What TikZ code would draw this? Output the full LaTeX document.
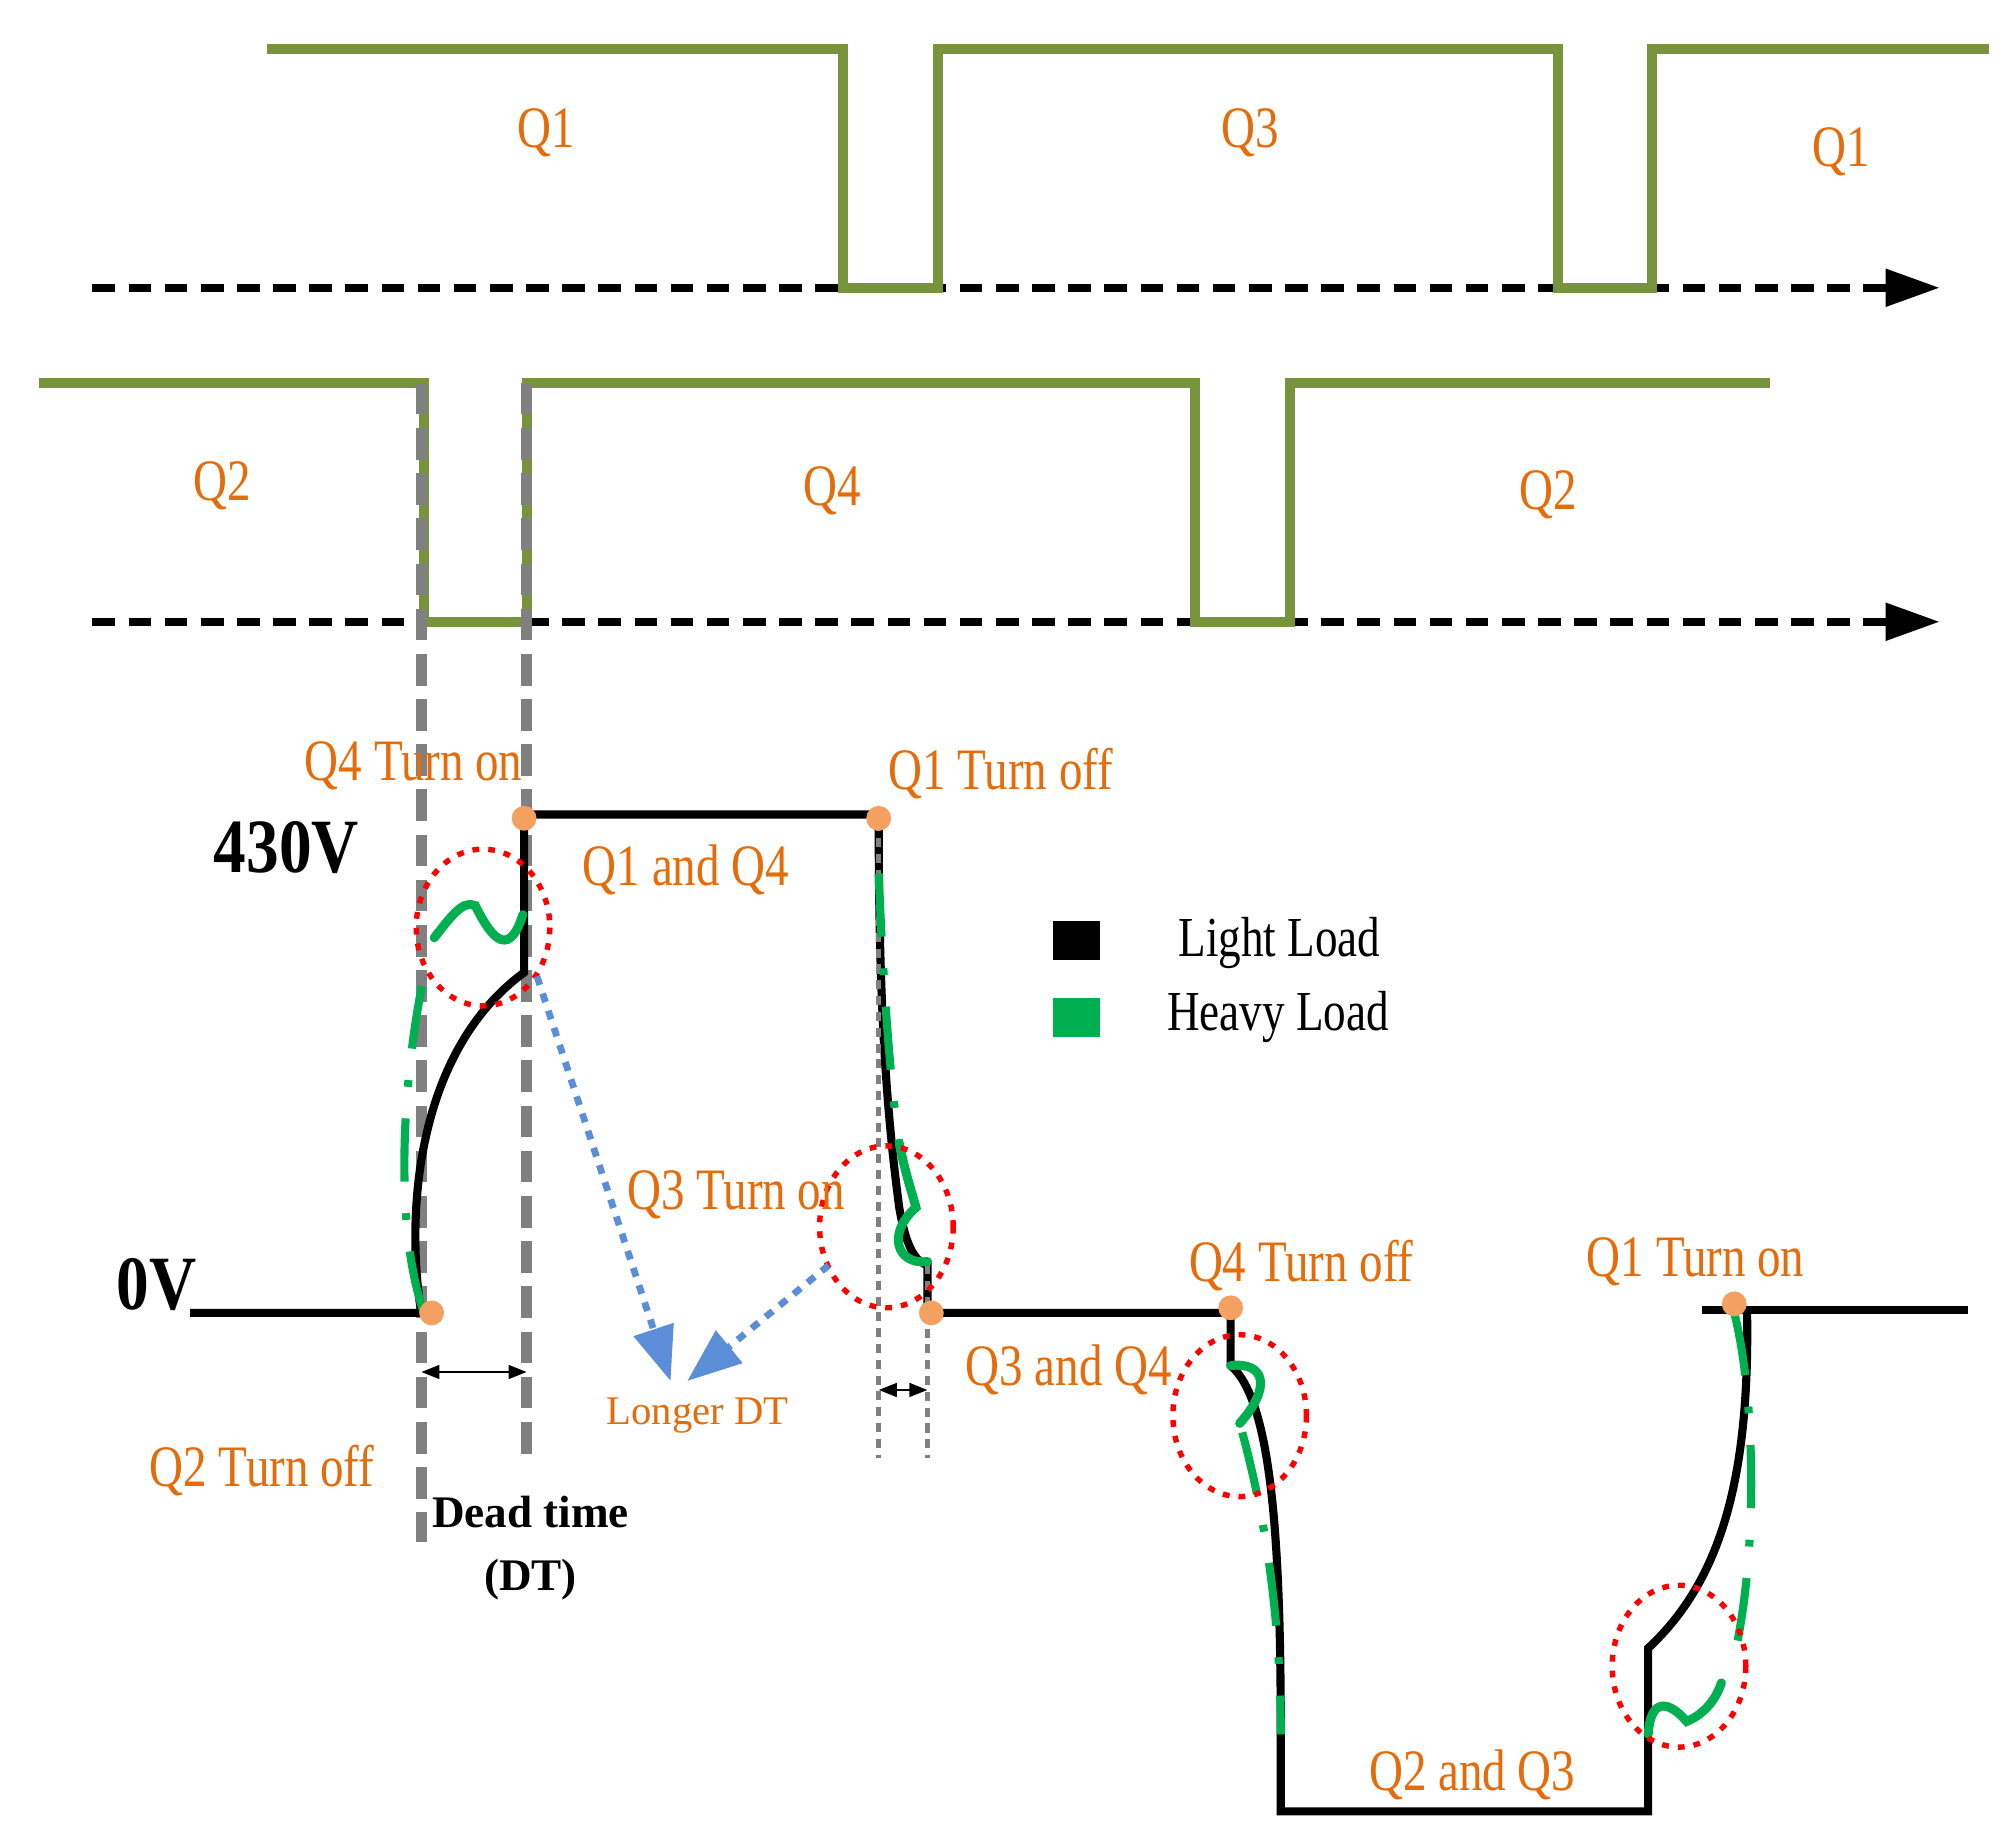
\documentclass[tikz,border=0pt]{standalone}
\usepackage{fontspec}
\setmainfont{Liberation Serif}
\usetikzlibrary{arrows.meta}
\definecolor{olive}{HTML}{77933C}
\definecolor{hgreen}{HTML}{00B050}
\definecolor{otxt}{HTML}{E46C0A}
\definecolor{odot}{HTML}{F4A060}
\definecolor{blu}{HTML}{5B8ED6}
\newcommand{\sq}[1]{\scalebox{0.8}[1]{#1}}
\begin{document}
\begin{tikzpicture}[x=0.01cm,y=-0.01cm,
  gate/.style={olive,line width=2.2pt},
  axis/.style={black,line width=1.8pt,dash pattern=on 5pt off 3pt,-{Triangle[length=12pt,width=8pt]}},
  gdash/.style={gray,line width=2.4pt,dash pattern=on 7pt off 3pt},
  gdot/.style={gray,line width=1pt,dash pattern=on 2pt off 1.5pt},
  wave/.style={black,line width=1.8pt},
  heavy/.style={hgreen,line width=1.8pt,dash pattern=on 14pt off 7pt on 1.5pt off 7pt},
  wig/.style={hgreen,line width=2pt,line cap=round},
  ring/.style={red,line width=1.2pt,dash pattern=on 1.5pt off 2pt},
  dot/.style={circle,fill=odot,inner sep=0pt,minimum size=5.5pt},
  lab/.style={text=otxt,font=\fontsize{13}{15}\selectfont,inner sep=0pt},
  volt/.style={font=\fontsize{17}{19}\selectfont\bfseries,inner sep=0pt},
  barrow/.style={blu,line width=1.5pt,dash pattern=on 2pt off 2pt,-{Triangle[length=12pt,width=9pt]}},
  dt/.style={black,line width=0.6pt,{Triangle[length=4pt,width=3pt]}-{Triangle[length=4pt,width=3pt]}}]
\path[use as bounding box] (0,0) rectangle (1560,1426);
% gate signals
\draw[axis] (72,224) -- (1510,224);
\draw[axis] (72,484) -- (1510,484);
\draw[gate] (208,38) -- (656,38) -- (656,224) -- (730,224) -- (730,38) -- (1213,38) -- (1213,224) -- (1286,224) -- (1286,38) -- (1548,38);
\draw[gate] (30,298) -- (330,298) -- (330,484) -- (410,484) -- (410,298) -- (930,298) -- (930,484) -- (1004,484) -- (1004,298) -- (1378,298);
\node[lab] (q1a) at (425,103) {\sq{Q1}};
\node[lab] (q3) at (973,103) {\sq{Q3}};
\node[lab] (q1b) at (1433,118) {\sq{Q1}};
\node[lab] (q2a) at (173,378) {\sq{Q2}};
\node[lab] (q4) at (648,382) {\sq{Q4}};
\node[lab] (q2b) at (1205,385) {\sq{Q2}};
% grey guides
\draw[gdash] (328,298) -- (328,1200);
\draw[gdash] (410,298) -- (410,1140);
% light load waveform
\draw[wave] (148,1022) -- (328,1022) .. controls (316,950) and (322,820) .. (408,757) -- (408,634) -- (684,634)
  .. controls (684,760) and (688,850) .. (700,940) .. controls (706,975) and (714,982) .. (722,985) -- (722,1022) -- (958,1022) -- (958,1063)
  .. controls (990,1090) and (997,1200) .. (997,1350) -- (997,1410) -- (1283,1410) -- (1283,1283)
  .. controls (1340,1230) and (1362,1150) .. (1360,1022);
\draw[wave] (1325,1020) -- (1532,1020);
\draw[gdot] (684,640) -- (684,1135);
\draw[gdot] (722,985) -- (722,1135);
% heavy load
\draw[heavy] (330,1022) .. controls (305,950) and (315,830) .. (330,760);
\draw[wig] (338,730) .. controls (350,715) and (360,700) .. (370,705) .. controls (380,725) and (395,750) .. (407,712);
\draw[heavy] (684,680) .. controls (688,780) and (694,850) .. (700,890);
\draw[wig] (700,890) .. controls (705,915) and (712,935) .. (713,940) .. controls (690,960) and (698,985) .. (722,982);
\draw[wig] (958,1063) .. controls (985,1060) and (990,1080) .. (965,1108);
\draw[heavy] (967,1115) .. controls (990,1200) and (997,1280) .. (997,1350);
\draw[heavy] (1350,1022) .. controls (1365,1080) and (1370,1200) .. (1350,1290);
\draw[wig] (1283,1350) .. controls (1285,1320) and (1300,1325) .. (1313,1340) .. controls (1325,1335) and (1335,1325) .. (1340,1310);
% rings
\draw[ring] (376,722) ellipse [x radius=52,y radius=61];
\draw[ring] (690,955) ellipse [x radius=52,y radius=63];
\draw[ring] (965,1102) ellipse [x radius=52,y radius=63];
\draw[ring] (1307,1297) ellipse [x radius=52,y radius=63];
% dots
\node[dot] (d1) at (336,1022) {};
\node[dot] (d2) at (408,637) {};
\node[dot] (d3) at (684,637) {};
\node[dot] (d4) at (725,1022) {};
\node[dot] (d5) at (958,1018) {};
\node[dot] (d6) at (1350,1015) {};
% dead time
\coordinate (dta) at (328,1068); \coordinate (dtb) at (410,1068);
\draw[dt] (dta) -- (dtb);
\coordinate (dtc) at (684,1082); \coordinate (dtd) at (722,1082);
\draw[dt] (dtc) -- (dtd);
% longer DT arrows
\node[text=otxt,font=\fontsize{9}{11}\selectfont,inner sep=0pt] (ldt) at (543,1102) {Longer DT};
\coordinate (s1) at (418,760); \coordinate (s2) at (645,985);
\draw[barrow] (s1) -- (522,1075);
\draw[barrow] (s2) -- (535,1075);
% labels
\node[volt] (v430) at (223,660) {\scalebox{0.85}[1]{430V}};
\node[volt] (v0) at (122,1000) {\scalebox{0.85}[1]{0V}};
\node[lab] at (322,596) {\sq{Q4 Turn on}};
\node[lab] at (779,602) {\sq{Q1 Turn off}};
\node[lab] at (534,677) {\sq{Q1 and Q4}};
\node[lab] at (573,930) {\sq{Q3 Turn on}};
\node[lab] at (1013,985) {\sq{Q4 Turn off}};
\node[lab] at (1320,982) {\sq{Q1 Turn on}};
\node[lab] at (832,1066) {\sq{Q3 and Q4}};
\node[lab] at (1146,1382) {\sq{Q2 and Q3}};
\node[lab] at (204,1145) {\sq{Q2 Turn off}};
\node[font=\fontsize{10}{14}\selectfont\bfseries,align=center,inner sep=0pt] (dtl) at (413,1205) {Dead time\\(DT)};
% legend
\node[fill=black,minimum width=0.36cm,minimum height=0.3cm,inner sep=0pt] (lk) at (838,732) {};
\node[fill=hgreen,minimum width=0.36cm,minimum height=0.3cm,inner sep=0pt] (hk) at (838,792) {};
\node[font=\fontsize{12.5}{14}\selectfont,inner sep=0pt] (lt) at (996,734) {\sq{Light Load}};
\node[font=\fontsize{12.5}{14}\selectfont,inner sep=0pt] (ht) at (995,792) {\sq{Heavy Load}};
\end{tikzpicture}
\end{document}
